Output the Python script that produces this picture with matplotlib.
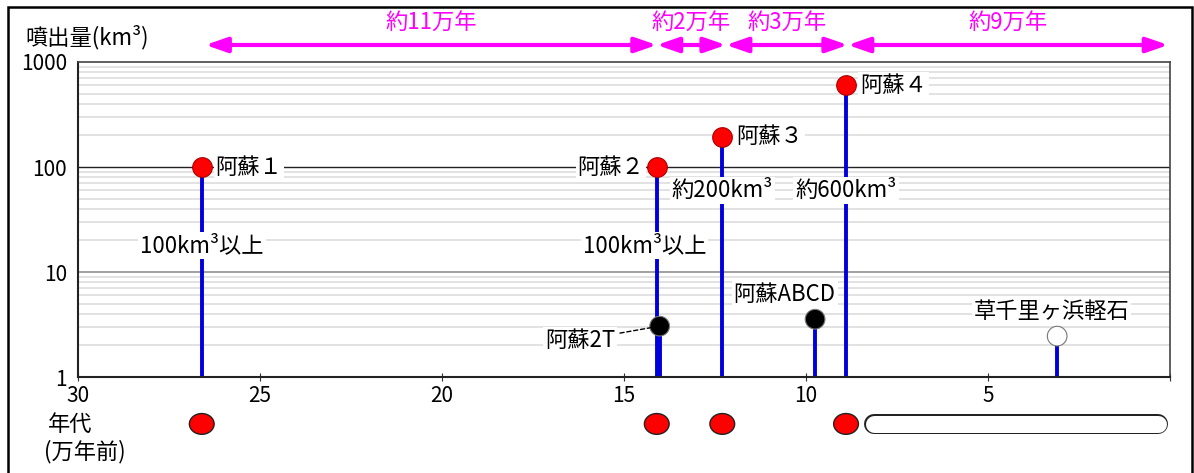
import matplotlib
matplotlib.use("Agg")
import matplotlib.pyplot as plt
from matplotlib.patches import Ellipse, Rectangle
from matplotlib.transforms import blended_transform_factory

plt.rcParams["font.family"] = ["Noto Sans CJK JP", "DejaVu Sans"]

# eruptions: age (10^4 years ago), volume (km3)
major_names = ["阿蘇１", "阿蘇２", "阿蘇３", "阿蘇４"]
major_ages = [26.6, 14.1, 12.3, 8.9]
major_volumes = [100, 100, 195, 600]

minor_names = ["阿蘇2T", "阿蘇ABCD", "草千里ヶ浜軽石"]
minor_ages = [14.02, 9.75, 3.1]
minor_volumes = [3.05, 3.55, 2.45]
minor_colors = ["black", "black", "white"]

volume_notes = ["100km³以上", "100km³以上", "約200km³", "約600km³"]
note_volumes = [18, 18, 60, 60]

period_edges = [26.5, 14.1, 12.2, 8.85, 0.05]
period_labels = ["約11万年", "約2万年", "約3万年", "約9万年"]
quiet_period = (8.4, 0.05)

xticks = [30, 25, 20, 15, 10, 5, 0]
xtick_labels = ["30", "25", "20", "15", "10", "5", ""]
yticks = [1, 10, 100, 1000]
ytick_labels = ["1", "10", "100", "1000"]

BLUE = "#0000dd"
MAGENTA = "#ff00ff"
FS = 16

fig = plt.figure(figsize=(11.94, 4.73), dpi=100)
ax = fig.add_axes([78 / 1194, 1 - 377 / 473, (1170 - 78) / 1194, (377 - 62) / 473])
ax.set_xlim(30, 0)
ax.set_yscale("log")
ax.set_ylim(1, 1000)

# grid
minor_levels = [m * 10 ** e for e in range(3) for m in range(2, 10)]
for level in minor_levels:
    ax.axhline(level, color="#dddddd", lw=1.2, zorder=0)
ax.axhline(10, color="#999999", lw=1.3, zorder=0)
ax.axhline(100, color="#222222", lw=1.0, zorder=0)

ax.set_xticks(xticks)
ax.set_xticklabels(xtick_labels, fontsize=15)
ax.set_yticks(yticks)
ax.set_yticklabels(ytick_labels, fontsize=15)
ax.yaxis.set_minor_locator(matplotlib.ticker.NullLocator())
ax.tick_params(axis="y", length=0, pad=8)
ax.tick_params(axis="x", length=6, direction="inout", pad=3, color="#333333")
for side in ["left", "bottom"]:
    ax.spines[side].set_color("#222222")
    ax.spines[side].set_linewidth(1.5)
for side in ["top", "right"]:
    ax.spines[side].set_color("#444444")
    ax.spines[side].set_linewidth(1.2)

# stems
ax.vlines(major_ages, 1, major_volumes, color=BLUE, lw=2.8, zorder=2)
ax.vlines(minor_ages, 1, minor_volumes, color=BLUE, lw=2.8, zorder=2)
ax.scatter(major_ages, major_volumes, s=200, color="red", edgecolor="#aa0000",
           lw=0.8, zorder=4)
ax.scatter(minor_ages, minor_volumes, s=200, c=minor_colors, edgecolor="#777777",
           lw=0.8, zorder=4)

box = dict(facecolor="white", edgecolor="none", pad=1.5)
label_kw = dict(fontsize=FS, textcoords="offset points", va="center", zorder=5, bbox=box)
major_offsets = [(10, 0), (-9, 0), (10, 0), (10, 0)]
for name, age, vol, off in zip(major_names, major_ages, major_volumes, major_offsets):
    ax.annotate(name, (age, vol), xytext=off, ha="left" if off[0] > 0 else "right", **label_kw)

ax.annotate(minor_names[0], (minor_ages[0], minor_volumes[0]), xytext=(-32, -10),
            ha="right", arrowprops=dict(arrowstyle="-", ls=(0, (3, 2)), lw=1,
                                        shrinkA=2, shrinkB=6), **label_kw)
ax.annotate(minor_names[1], (minor_ages[1], minor_volumes[1]), xytext=(-22, 18),
            ha="center", **label_kw)
ax.annotate(minor_names[2], (minor_ages[2], minor_volumes[2]), xytext=(-4, 18),
            ha="center", **label_kw)

note_offsets = [(0, 0), (-9, 0), (0, 0), (0, 0)]
for note, age, vol, off in zip(volume_notes, major_ages, note_volumes, note_offsets):
    ax.annotate(note, (age, vol), xytext=off, ha="center", **label_kw)

# periods between eruptions (arrows above the plot)
top = blended_transform_factory(ax.transData, ax.transAxes)
for left, right, label in zip(period_edges[:-1], period_edges[1:], period_labels):
    ax.annotate("", xy=(right, 1.054), xytext=(left, 1.054), xycoords=top,
                textcoords=top, annotation_clip=False,
                arrowprops=dict(arrowstyle="<|-|>,head_length=1.3,head_width=0.45",
                                color=MAGENTA, lw=3, shrinkA=0, shrinkB=0))
    ax.text((left + right) / 2, 1.127, label, transform=top, ha="center",
            va="center", color=MAGENTA, fontsize=FS, clip_on=False)

# age row below the axis
row_y = -0.149
for age in major_ages:
    ax.add_patch(Ellipse((age, row_y), 0.68, 0.066, transform=top, facecolor="red",
                         edgecolor="#222222", lw=1, clip_on=False))
px_per_unit = (ax.transData.transform((0, 1))[0] - ax.transData.transform((1, 1))[0])
pill_px = 20
cap = (pill_px / 2) / px_per_unit
pill_x = [quiet_period[0] - cap, quiet_period[1] + cap]
pt_per_px = 72 / fig.dpi
ax.plot(pill_x, [row_y, row_y], transform=top, color="#222222", lw=pill_px * pt_per_px,
        solid_capstyle="round", clip_on=False)
ax.plot(pill_x, [row_y, row_y], transform=top, color="white",
        lw=(pill_px - 3) * pt_per_px, solid_capstyle="round", clip_on=False)

fig.text(25 / 1194, 1 - 37 / 473, "噴出量(km³)", fontsize=FS, va="center")
fig.text(48 / 1194, 1 - 424 / 473, "年代", fontsize=FS, va="center")
fig.text(44 / 1194, 1 - 452 / 473, "(万年前)", fontsize=FS, va="center")

fig.add_artist(Rectangle((8 / 1194, -0.05), (1192 - 8) / 1194, 1.05 - 7 / 473,
                         transform=fig.transFigure, fill=False, edgecolor="black", lw=1.8))

fig.savefig("out.png", dpi=100)
